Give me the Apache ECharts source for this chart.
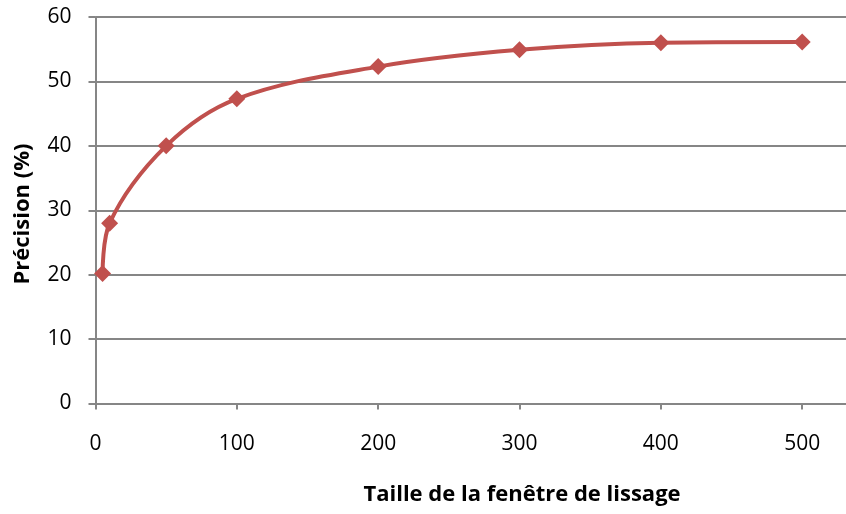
<!DOCTYPE html>
<html>
<head>
<meta charset="utf-8">
<script src="https://cdn.jsdelivr.net/npm/echarts@6/dist/echarts.min.js"></script>
<style>
html,body{margin:0;padding:0;background:#fff;}
#chart{width:846px;height:514px;}
</style>
</head>
<body>
<div id="chart"></div>
<script>
// Smoothing window size vs. precision
var windowSizes = [5, 10, 50, 100, 200, 300, 400, 500];
var precision = [20.2, 28.0, 40.0, 47.3, 52.3, 54.9, 56.0, 56.1];
var yTicks = [0, 10, 20, 30, 40, 50, 60];
var xTicks = [0, 100, 200, 300, 400, 500];

var xTitle = 'Taille de la fenêtre de lissage';
var yTitle = 'Précision (%)';

var FONT = 'Open Sans';
var chart = echarts.init(document.getElementById('chart'));

var points = windowSizes.map(function (x, i) { return [x, precision[i]]; });

chart.setOption({
  animation: false,
  grid: { left: 95.5, right: 0, top: 17, bottom: 110.5, containLabel: false },
  xAxis: {
    type: 'value',
    min: 0,
    max: 531,
    interval: 100,
    axisLine: { show: true, lineStyle: { color: '#868686', width: 2 } },
    axisTick: { show: true, length: 6, lineStyle: { color: '#868686', width: 2 } },
    splitLine: { show: false },
    axisLabel: {
      showMaxLabel: false,
      margin: 30,
      color: '#000',
      fontFamily: FONT,
      fontSize: 21,
      formatter: function (v) { return xTicks.indexOf(v) >= 0 ? String(v) : ''; }
    }
  },
  yAxis: {
    type: 'value',
    min: yTicks[0],
    max: yTicks[yTicks.length - 1],
    interval: 10,
    axisLine: { show: true, lineStyle: { color: '#868686', width: 2 } },
    axisTick: { show: true, length: 7, lineStyle: { color: '#868686', width: 2 } },
    splitLine: { show: true, lineStyle: { color: '#868686', width: 2 } },
    axisLabel: { margin: 24, color: '#000', fontFamily: FONT, fontSize: 21 }
  },
  graphic: [
    {
      type: 'text',
      style: { text: xTitle, font: 'bold 22px "' + FONT + '"', fill: '#000', textAlign: 'center', textVerticalAlign: 'middle' },
      position: [522, 495]
    },
    {
      type: 'text',
      rotation: Math.PI / 2,
      style: { text: yTitle, font: 'bold 22px "' + FONT + '"', fill: '#000', textAlign: 'center', textVerticalAlign: 'middle' },
      position: [23, 214]
    }
  ],
  series: [{
    type: 'line',
    data: points,
    smooth: 0.35,
    symbol: 'diamond',
    symbolSize: 17,
    lineStyle: { color: '#C0504D', width: 4 },
    itemStyle: { color: '#C0504D' }
  }]
});
</script>
</body>
</html>
